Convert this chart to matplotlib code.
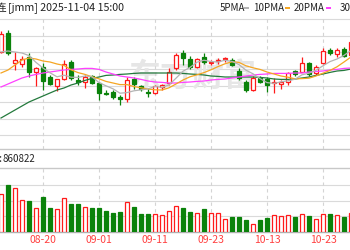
import matplotlib
matplotlib.use('Agg')
import matplotlib.pyplot as plt
from matplotlib.patches import Rectangle
from matplotlib.transforms import blended_transform_factory

plt.rcParams['font.family'] = ['Noto Sans CJK SC', 'DejaVu Sans']

# trading days shown (08-12 .. 10-29), one candle per day
dates = ['08-12', '08-13', '08-14', '08-15', '08-18', '08-19', '08-20', '08-21', '08-22',
         '08-25', '08-26', '08-27', '08-28', '08-29', '09-01', '09-02', '09-03', '09-04',
         '09-05', '09-08', '09-09', '09-10', '09-11', '09-12', '09-15', '09-16', '09-17',
         '09-18', '09-19', '09-22', '09-23', '09-24', '09-25', '09-26', '09-29', '09-30',
         '10-09', '10-10', '10-13', '10-14', '10-15', '10-16', '10-17', '10-20', '10-21',
         '10-22', '10-23', '10-24', '10-27', '10-28', '10-29']

opens = [15.35, 16.30, 14.80, 14.75, 15.10, 14.35, 14.60, 14.10, 13.65, 14.00,
         14.85, 13.95, 13.85, 14.15, 13.80, 13.30, 13.35, 13.10, 13.00, 14.00,
         13.65, 13.35, 13.30, 13.60, 13.80, 14.55, 15.30, 15.00, 14.60, 15.10,
         14.80, 14.90, 15.00, 14.95, 14.40, 13.85, 13.45, 14.05, 14.00, 13.80,
         13.75, 13.85, 14.40, 14.35, 14.80, 14.30, 14.80, 15.45, 15.25, 15.50, 15.20]
highs = [16.40, 16.45, 15.35, 15.15, 15.30, 14.60, 14.80, 14.20, 14.00, 14.95,
         14.95, 14.20, 14.20, 14.20, 13.85, 13.45, 13.45, 13.20, 14.10, 14.10,
         13.70, 13.55, 13.70, 13.75, 14.55, 15.30, 15.45, 15.15, 15.05, 15.30,
         14.95, 15.05, 15.10, 15.05, 14.55, 13.95, 14.15, 14.15, 14.10, 14.05,
         13.95, 14.35, 14.45, 15.10, 14.85, 14.70, 15.55, 15.55, 15.55, 15.60, 16.05]
lows = [15.30, 15.20, 14.45, 14.60, 14.10, 13.65, 13.45, 13.70, 13.40, 13.95,
        13.95, 13.70, 13.55, 13.75, 12.95, 13.20, 13.00, 12.70, 12.85, 13.50,
        13.40, 13.10, 13.25, 13.45, 13.70, 14.45, 14.70, 14.50, 14.55, 14.75,
        14.70, 14.75, 14.85, 14.65, 13.95, 13.35, 13.40, 13.80, 13.35, 13.30,
        13.50, 13.70, 14.15, 14.35, 14.15, 14.20, 14.75, 15.20, 15.10, 15.10, 15.10]
closes = [16.25, 15.30, 14.95, 15.00, 14.35, 14.55, 13.90, 13.75, 14.00, 14.75,
          14.05, 13.85, 14.10, 13.80, 13.30, 13.25, 13.10, 13.00, 13.95, 13.75,
          13.50, 13.30, 13.65, 13.70, 14.35, 15.20, 15.05, 14.60, 15.00, 14.85,
          14.85, 14.95, 15.05, 14.70, 14.05, 13.45, 14.05, 13.85, 13.70, 13.85,
          13.85, 14.30, 14.25, 14.80, 14.25, 14.60, 15.40, 15.30, 15.45, 15.15, 15.85]
volumes = [754000, 927000, 873000, 633000, 620000, 473000, 693000, 473000, 453000, 673000,
           560000, 547000, 500000, 473000, 473000, 420000, 367000, 400000, 600000, 493000,
           347000, 347000, 360000, 333000, 413000, 513000, 473000, 400000, 367000, 453000,
           367000, 373000, 253000, 293000, 293000, 240000, 160000, 240000, 273000, 333000,
           313000, 333000, 293000, 360000, 313000, 253000, 353000, 353000, 340000, 293000, 373000]

ma5 = [15.35, 15.40, 15.35, 15.30, 15.17, 14.83, 14.55, 14.31, 14.11, 14.19,
       14.09, 14.08, 14.15, 14.11, 13.82, 13.66, 13.51, 13.29, 13.32, 13.41,
       13.46, 13.50, 13.63, 13.58, 13.70, 14.04, 14.39, 14.58, 14.84, 14.94,
       14.87, 14.85, 14.94, 14.88, 14.72, 14.44, 14.26, 14.02, 13.82, 13.78,
       13.86, 13.91, 13.99, 14.21, 14.29, 14.44, 14.66, 14.87, 15.00, 15.18, 15.43]
ma10 = [14.30, 14.45, 14.70, 14.95, 15.05, 15.00, 14.90, 14.85, 14.75, 14.68,
        14.46, 14.32, 14.23, 14.11, 14.01, 13.88, 13.80, 13.72, 13.72, 13.62,
        13.56, 13.50, 13.46, 13.45, 13.56, 13.75, 13.95, 14.11, 14.21, 14.32,
        14.46, 14.62, 14.76, 14.86, 14.83, 14.66, 14.56, 14.48, 14.35, 14.25,
        14.15, 14.09, 14.01, 14.02, 14.04, 14.15, 14.29, 14.43, 14.61, 14.85, 15.10]
ma20 = [13.60, 13.75, 13.90, 14.05, 14.15, 14.23, 14.30, 14.35, 14.40, 14.45,
        14.48, 14.50, 14.53, 14.53, 14.48, 14.35, 14.25, 14.15, 14.10, 14.05,
        13.98, 13.90, 13.85, 13.83, 13.80, 13.80, 13.83, 13.85, 13.88, 13.90,
        13.95, 13.98, 14.00, 14.05, 14.10, 14.15, 14.20, 14.23, 14.25, 14.28,
        14.28, 14.28, 14.30, 14.30, 14.35, 14.38, 14.40, 14.45, 14.48, 14.53, 14.55]
ma30 = [12.05, 12.25, 12.45, 12.65, 12.85, 13.00, 13.15, 13.30, 13.45, 13.55,
        13.70, 13.80, 13.93, 14.03, 14.10, 14.18, 14.20, 14.23, 14.25, 14.28,
        14.30, 14.30, 14.30, 14.30, 14.30, 14.30, 14.28, 14.25, 14.23, 14.20,
        14.15, 14.13, 14.10, 14.10, 14.10, 14.10, 14.10, 14.08, 14.05, 14.00,
        13.98, 13.98, 14.00, 14.05, 14.10, 14.18, 14.25, 14.33, 14.40, 14.43, 14.50]

tick_dates = ['08-08', '08-20', '09-01', '09-11', '09-23', '10-13', '10-23']
tick_pos = [-2, 6, 14, 22, 30, 38, 46]

title_cut = '焦煤主连'
title_rest = '[jmm] 2025-11-04 15:00'
legend_labels = ['5PMA', '10PMA', '20PMA', '30PMA']
ma_colors = ['#b4b4b4', '#f5a623', '#ff40ff', '#23793c']
vol_label = '860822'

RED = '#ff1a1a'
GREEN = '#0a820a'
W, H = 350, 250


def box(x0, y0, x1, y1):
    return [x0 / W, 1 - y1 / H, (x1 - x0) / W, (y1 - y0) / H]


fig = plt.figure(figsize=(W / 100, H / 100), dpi=100)
bg = fig.add_axes([0, 0, 1, 1], zorder=0)
bg.set_xlim(0, W)
bg.set_ylim(H, 0)
bg.axis('off')

# panel grid
for y in [18.5, 35.5, 52, 68.5, 85.5, 102, 118.5, 135, 185, 200.5, 216]:
    bg.axhline(y, color='#dadada', lw=0.8)
for y in [149, 168]:
    bg.axhline(y, color='#c8c8c8', lw=1.0)
bg.axhline(231.5, color='#b0b0b0', lw=1.0)

# watermark
bg.text(192, 78, '东方财富', fontsize=23, color='#e6e6e6', fontweight='bold',
        ha='center', va='center')

# title and legend
bg.text(7.5, 8, title_cut, fontsize=7.7, ha='right', va='center', color='#222222')
bg.text(8, 8, title_rest, fontsize=7.7, ha='left', va='center', color='#222222')
lx = [220, 253, 294, 340]
for x, lab in zip(lx, legend_labels):
    bg.text(x, 8, lab, fontsize=7, ha='left', va='center', color='#222222')
for x, c in zip([244, 285, 326], ma_colors):
    bg.add_patch(Rectangle((x, 6.5), 5, 2.5, color=c, lw=0))

bg.text(2.2, 158.5, '成交量:', fontsize=7, ha='right', va='center', color='#222222')
bg.text(2.8, 158.5, vol_label, fontsize=7, ha='left', va='center', color='#222222')

xl = ((-10 - 1) / 7, (360 - 1) / 7)
idx = list(range(len(dates)))

# price panel
ax = fig.add_axes(box(-10, 19, 360, 149), zorder=1)
ax.patch.set_alpha(0)
ax.set_xlim(*xl)
ax.set_ylim(10.50, 17.00)
ax.axis('off')
for p in tick_pos:
    ax.axvline(p, color='#d4d4d4', lw=0.8, ls=(0, (3, 3)), zorder=1)

bw = 0.7
for i in idx:
    o, h, l, c = opens[i], highs[i], lows[i], closes[i]
    up = c >= o
    col = RED if up else GREEN
    ax.vlines(i, l, h, color=col, lw=0.9, zorder=2)
    lo, hi = min(o, c), max(o, c)
    if hi - lo < 0.03:
        ax.hlines(c, i - bw / 2, i + bw / 2, color=col, lw=1.0, zorder=3)
    else:
        ax.add_patch(Rectangle((i - bw / 2, lo), bw, hi - lo,
                               facecolor='white' if up else GREEN,
                               edgecolor=col, lw=0.9, zorder=3))

for ma, c in zip([ma30, ma20, ma10, ma5], ma_colors[::-1]):
    ax.plot(idx, ma, color=c, lw=0.9, zorder=4)

# volume panel
vx = fig.add_axes(box(-10, 168, 360, 231.5), zorder=1)
vx.patch.set_alpha(0)
vx.set_xlim(*xl)
vx.set_ylim(0, 1270000)
vx.axis('off')
for p in tick_pos:
    vx.axvline(p, color='#d4d4d4', lw=0.8, ls=(0, (3, 3)), zorder=1)
for i in idx:
    up = closes[i] >= opens[i]
    vx.bar(i, volumes[i], width=0.68,
           facecolor='white' if up else GREEN,
           edgecolor=RED if up else GREEN, lw=0.9, zorder=2)

tr = blended_transform_factory(vx.transData, vx.transAxes)
for p, lab in zip(tick_pos, tick_dates):
    vx.text(p, -8.5 / 63.5, lab, transform=tr, fontsize=7.5, color='#ff4040',
            ha='center', va='center', clip_on=False)

fig.savefig('out.png', dpi=100)
